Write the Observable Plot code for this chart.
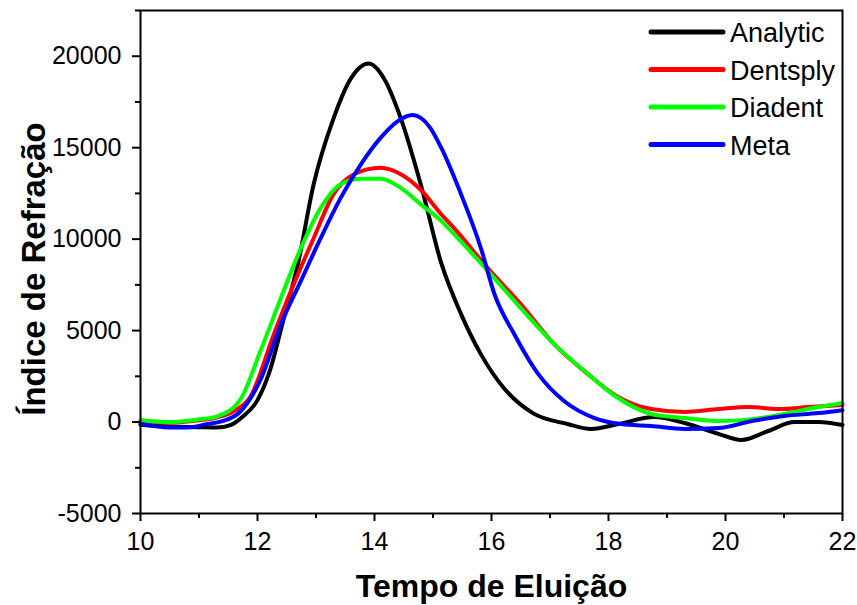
<!DOCTYPE html>
<html>
<head>
<meta charset="utf-8">
<script src="https://cdn.jsdelivr.net/npm/d3@7"></script>
<script src="https://cdn.jsdelivr.net/npm/@observablehq/plot@0.6"></script>
<style>
  html, body { margin: 0; padding: 0; background: #fff; }
  #wrap { position: relative; width: 857px; height: 605px; font-family: "Liberation Sans", Arial, sans-serif; }
  #wrap svg { font-family: "Liberation Sans", Arial, sans-serif; }
  #legend { position: absolute; left: 0; top: 0; pointer-events: none; }
</style>
</head>
<body>
<div id="wrap"></div>
<script>
// ---- data ----
const seriesNames = ["Analytic", "Dentsply", "Diadent", "Meta"];
const seriesColors = ["#000000", "#ff0000", "#00ff00", "#0000ff"];

const analyticT = [10, 10.5, 11.0, 11.3, 11.55, 11.75, 12.0, 12.2, 12.45, 12.69, 12.96, 13.3, 13.6, 13.9, 14.16, 14.45, 14.79, 15.14, 15.48, 15.82, 16.2, 16.7, 17.3, 17.7, 18.17, 18.78, 19.3, 19.88, 20.27, 20.73, 21.18, 21.59, 22];
const analyticV = [-150, -250, -280, -300, -150, 300, 1200, 2700, 5680, 8630, 13000, 16600, 18800, 19600, 18800, 16600, 13000, 8700, 5900, 3700, 1900, 500, -110, -380, -110, 270, -50, -650, -980, -490, 0, 0, -160];

const dentsplyT = [10, 10.5, 11.0, 11.3, 11.6, 11.88, 12.28, 12.62, 12.96, 13.3, 13.65, 14.1, 14.45, 14.79, 15.14, 15.36, 15.94, 16.5, 17.07, 17.65, 18.1, 18.73, 19.3, 19.88, 20.4, 20.9, 21.42, 22];
const dentsplyV = [50, -30, 100, 250, 600, 1400, 4800, 7540, 10050, 12460, 13550, 13900, 13550, 12700, 11360, 10600, 8400, 6450, 4260, 2620, 1500, 710, 550, 710, 820, 710, 820, 930];

const diadentT = [10, 10.5, 11.0, 11.3, 11.7, 12.05, 12.4, 12.74, 13.08, 13.42, 13.77, 14.1, 14.45, 14.79, 15.14, 15.36, 15.94, 16.5, 17.07, 17.65, 18.1, 18.73, 19.3, 19.88, 20.45, 21.0, 21.59, 22];
const diadentV = [100, 0, 150, 300, 1200, 3880, 6780, 9500, 11700, 13000, 13300, 13300, 12800, 11900, 11000, 10270, 8250, 6230, 4260, 2620, 1450, 440, 220, 55, 160, 440, 820, 1040];

const metaT = [10, 10.5, 10.8, 11.15, 11.4, 11.7, 12.05, 12.4, 12.74, 13.08, 13.42, 13.77, 14.1, 14.4, 14.65, 14.95, 15.14, 15.48, 15.82, 16.05, 16.39, 16.8, 17.24, 17.76, 18.22, 18.73, 19.3, 19.88, 20.45, 21.0, 21.59, 22];
const metaV = [-100, -300, -300, -100, 50, 550, 2300, 5350, 7700, 10050, 12240, 14100, 15520, 16450, 16780, 16100, 15000, 12450, 9500, 7000, 4800, 2620, 1150, 220, -110, -220, -380, -330, 55, 330, 490, 650];

const xMajorTicks = [10, 12, 14, 16, 18, 20, 22];
const xMinorTicks = [11, 13, 15, 17, 19, 21];
const yMajorTicks = [-5000, 0, 5000, 10000, 15000, 20000];
const yMinorTicks = [-2500, 2500, 7500, 12500, 17500, 22500];

const xTitle = "Tempo de Eluição";
const yTitle = "Índice de Refração";

// ---- tidy table ----
const seriesT = [analyticT, dentsplyT, diadentT, metaT];
const seriesV = [analyticV, dentsplyV, diadentV, metaV];
const rows = [];
seriesNames.forEach((name, i) => {
  seriesT[i].forEach((t, j) => rows.push({series: name, t, v: seriesV[i][j]}));
});

const plot = Plot.plot({
  width: 857,
  height: 605,
  marginLeft: 140,
  marginRight: 15,
  marginTop: 10,
  marginBottom: 92,
  style: {fontFamily: "'Liberation Sans', Arial, sans-serif", background: "#fff", color: "#000"},
  x: {domain: [10, 22]},
  y: {domain: [-5000, 22500]},
  color: {domain: seriesNames, range: seriesColors},
  marks: [
    Plot.line(rows, {x: "t", y: "v", z: "series", stroke: "series", strokeWidth: 4, curve: "monotone-x", strokeLinejoin: "round"}),
    Plot.frame({stroke: "#000", strokeWidth: 2}),
    Plot.axisX({ticks: xMajorTicks, tickSize: 8, tickPadding: 11, fontSize: 25, strokeWidth: 2, label: null, tickFormat: d => String(d)}),
    Plot.axisX({ticks: xMinorTicks, tickSize: 5, strokeWidth: 2, label: null, text: null}),
    Plot.axisY({ticks: yMajorTicks, tickSize: 8, tickPadding: 11, fontSize: 25, strokeWidth: 2, label: null, tickFormat: d => String(d)}),
    Plot.axisY({ticks: yMinorTicks, tickSize: 5, strokeWidth: 2, label: null, text: null}),
    Plot.text([xTitle], {frameAnchor: "bottom", textAnchor: "middle", lineAnchor: "bottom", dy: 83, fontSize: 32, fontWeight: "bold", fill: "#000"}),
    Plot.text([yTitle], {frameAnchor: "left", textAnchor: "middle", lineAnchor: "bottom", rotate: -90, dx: -96, dy: 7, fontSize: 33, fontWeight: "bold", fill: "#000"})
  ]
});

const wrap = document.getElementById("wrap");
wrap.appendChild(plot);

// ---- legend overlay ----
const leg = d3.select(wrap).append("svg")
  .attr("id", "legend")
  .attr("width", 857).attr("height", 605);
const legRows = leg.selectAll("g").data(seriesNames).join("g")
  .attr("transform", (d, i) => `translate(651, ${32 + i * 37.5})`);
legRows.append("line")
  .attr("x1", 0).attr("x2", 72).attr("y1", 0).attr("y2", 0)
  .attr("stroke", (d, i) => seriesColors[i])
  .attr("stroke-width", 5)
  .attr("stroke-linecap", "round");
legRows.append("text")
  .attr("x", 79).attr("y", 10)
  .attr("font-size", 27)
  .attr("font-family", "'Liberation Sans', Arial, sans-serif")
  .attr("fill", "#000")
  .text(d => d);
</script>
</body>
</html>
